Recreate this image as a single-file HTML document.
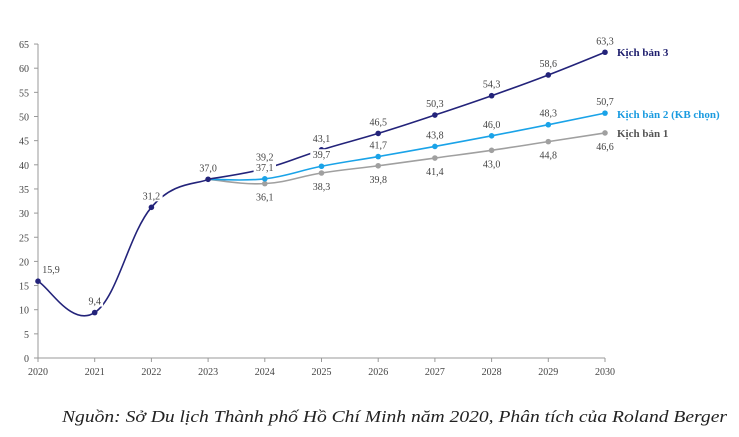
<!DOCTYPE html>
<html><head><meta charset="utf-8"><style>
body{margin:0;background:#fff;width:739px;height:432px;overflow:hidden}
svg{font-family:"Liberation Serif",serif}
</style></head><body>
<svg id="chart" width="739" height="432" viewBox="0 0 739 432">
<g id="axes"></g><g id="series"></g><g id="labels"></g>
<text x="617" y="56" font-size="11" font-weight="bold" fill="#1f1f6e">Kịch bản 3</text>
<text x="617" y="118" font-size="11" font-weight="bold" fill="#1a9be0">Kịch bản 2 (KB chọn)</text>
<text x="617" y="137" font-size="11" font-weight="bold" fill="#555">Kịch bản 1</text>
<text x="62" y="422" font-size="16.5" font-style="italic" fill="#222" textLength="665" lengthAdjust="spacingAndGlyphs">Nguồn: Sở Du lịch Thành phố Hồ Chí Minh năm 2020, Phân tích của Roland Berger</text>
</svg>
<script>
const years=[2020,2021,2022,2023,2024,2025,2026,2027,2028,2029,2030];
const yTicks=[0,5,10,15,20,25,30,35,40,45,50,55,60,65];
const histYears=[2020,2021,2022,2023];
const histVals=[15.9,9.4,31.2,37.0];
const s3Years=[2023,2024,2025,2026,2027,2028,2029,2030];
const s3Vals=[37.0,39.2,43.1,46.5,50.3,54.3,58.6,63.3];
const s2Vals=[37.0,37.1,39.7,41.7,43.8,46.0,48.3,50.7];
const s1Vals=[37.0,36.1,38.3,39.8,41.4,43.0,44.8,46.6];
const NS="http://www.w3.org/2000/svg";
const X=y=>38+(y-2020)*56.7;
const Y=v=>358-v*4.83;
function mk(t,a,p){const e=document.createElementNS(NS,t);for(const k in a)e.setAttribute(k,a[k]);p.appendChild(e);return e;}
const fmt=v=>v.toFixed(1).replace('.',',');
const ax=document.getElementById('axes');
const l1=mk('line',{x1:38,y1:Y(65),x2:38,y2:358,stroke:'#999'},ax);


const l2=mk('line',{x1:38,y1:358,x2:605,y2:358,stroke:'#999'},ax);


yTicks.forEach(v=>{mk('line',{x1:34,x2:38,y1:Y(v),y2:Y(v),stroke:'#999'},ax);
const t=mk('text',{x:29,y:Y(v)+4,'font-size':10,'text-anchor':'end',fill:'#444'},ax);t.textContent=v;

});
years.forEach(y=>{mk('line',{x1:X(y),x2:X(y),y1:358,y2:362,stroke:'#999'},ax);
const t=mk('text',{x:X(y),y:375,'font-size':10,'text-anchor':'middle',fill:'#444'},ax);t.textContent=y;

});
function smooth(pts){let d=`M${pts[0][0]},${pts[0][1]}`;for(let i=0;i<pts.length-1;i++){const p0=pts[Math.max(0,i-1)],p1=pts[i],p2=pts[i+1],p3=pts[Math.min(pts.length-1,i+2)];const t=0.2;
d+=` C${p1[0]+(p2[0]-p0[0])*t},${p1[1]+(p2[1]-p0[1])*t} ${p2[0]-(p3[0]-p1[0])*t},${p2[1]-(p3[1]-p1[1])*t} ${p2[0]},${p2[1]}`;}return d;}
const sg=document.getElementById('series'),lg=document.getElementById('labels');
function series(name,xs,vs,color,skipFirstMarker,labelPos){
const pts=xs.map((y,i)=>[X(y),Y(vs[i])]);
const p=mk('path',{d:smooth(pts),fill:'none',stroke:color,'stroke-width':1.6},sg);


pts.forEach((q,i)=>{if(skipFirstMarker&&i==0)return;
const c=mk('circle',{cx:q[0],cy:q[1],r:2.8,fill:color},sg);


const dy=labelPos==='below'?17:-8;
const dx=(name==='historical'&&i===0)?13:0;
const txt=fmt(vs[i]);const w=txt.length*5.6;
mk('rect',{x:q[0]+dx-w/2,y:q[1]+dy-9,width:w,height:11,fill:'#fff'},lg);
const t=mk('text',{x:q[0]+dx,y:q[1]+dy,'font-size':10,'text-anchor':'middle',fill:'#444'},lg);t.textContent=txt;

});}
series('scenario-1',s3Years,s1Vals,'#a0a0a0',true,'below');
series('scenario-2',s3Years,s2Vals,'#1aa3e8',true,'above');
series('scenario-3',s3Years,s3Vals,'#23237a',true,'above');
series('historical',histYears,histVals,'#23237a',false,'above');
</script>
</body></html>
